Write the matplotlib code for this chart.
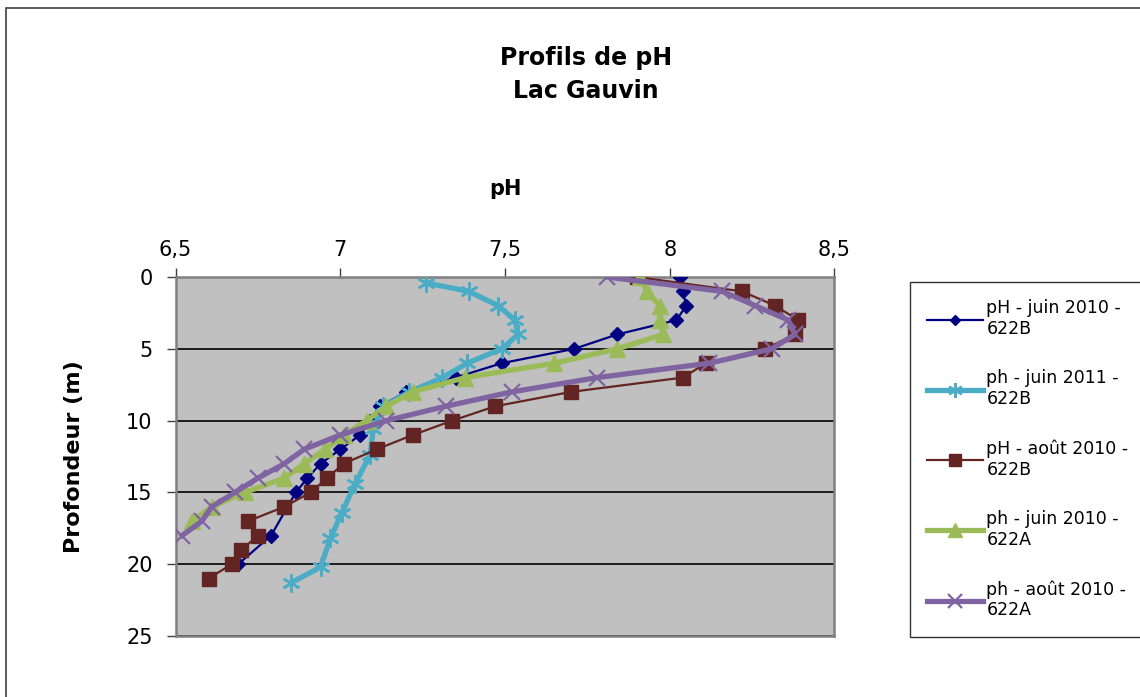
import matplotlib
matplotlib.use('Agg')
import matplotlib.pyplot as plt
from matplotlib.patches import Rectangle
from matplotlib.ticker import FuncFormatter

plt.rcParams['font.family'] = ['DejaVu Sans']

# profils de pH, lac Gauvin (profondeur en m)
prof_juin10_b = [0, 1, 2, 3, 4, 5, 6, 7, 8, 9, 10, 11, 12, 13, 14, 15, 18, 20]
ph_juin10_b = [8.03, 8.04, 8.05, 8.02, 7.84, 7.71, 7.49, 7.35, 7.20, 7.12,
               7.09, 7.06, 7.00, 6.94, 6.90, 6.865, 6.79, 6.69]

prof_juin11_b = [0.4, 1, 2, 3, 4, 5, 6, 7, 8, 9, 10.6, 12.4, 14.4, 16.4,
                 18.2, 20.2, 21.3]
ph_juin11_b = [7.26, 7.39, 7.48, 7.53, 7.54, 7.49, 7.385, 7.31, 7.21, 7.13,
               7.10, 7.09, 7.045, 7.005, 6.97, 6.94, 6.85]

prof_aout10_b = list(range(0, 22))
ph_aout10_b = [7.90, 8.22, 8.32, 8.39, 8.38, 8.29, 8.11, 8.04, 7.70, 7.47,
               7.34, 7.22, 7.11, 7.01, 6.96, 6.91, 6.83, 6.72, 6.75, 6.70,
               6.67, 6.60]

prof_juin10_a = list(range(0, 18))
ph_juin10_a = [7.91, 7.93, 7.97, 7.97, 7.98, 7.84, 7.65, 7.38, 7.22, 7.14,
               7.08, 7.01, 6.955, 6.89, 6.83, 6.71, 6.61, 6.55]

prof_aout10_a = list(range(0, 19))
ph_aout10_a = [7.81, 8.16, 8.26, 8.36, 8.38, 8.31, 8.12, 7.78, 7.52, 7.32,
               7.14, 7.00, 6.89, 6.83, 6.75, 6.68, 6.61, 6.58, 6.52]

x_ticks = [6.5, 7, 7.5, 8, 8.5]
y_ticks = [0, 5, 10, 15, 20, 25]

fig = plt.figure(figsize=(11.4, 6.97), dpi=100)
ax = fig.add_axes([0.154, 0.0875, 0.578, 0.515])
ax.set_facecolor('#c0c0c0')

ax.plot(ph_juin10_b, prof_juin10_b, color='#000080', lw=1.6, marker='D',
        ms=7, label='pH - juin 2010 -\n622B', zorder=3)
ax.plot(ph_juin11_b, prof_juin11_b, color='#4bacc6', lw=3.8,
        marker=(6, 2, 0), ms=13, mew=1.8, label='ph - juin 2011 -\n622B',
        zorder=4)
ax.plot(ph_aout10_b, prof_aout10_b, color='#632523', lw=1.6, marker='s',
        ms=10, label='pH - août 2010 -\n622B', zorder=5)
ax.plot(ph_juin10_a, prof_juin10_a, color='#9bbb59', lw=3.8, marker='^',
        ms=12, label='ph - juin 2010 -\n622A', zorder=6)
ax.plot(ph_aout10_a, prof_aout10_a, color='#8064a2', lw=3.8, marker='x',
        ms=12, mew=1.6, label='ph - août 2010 -\n622A', zorder=7)

ax.set_xlim(6.5, 8.5)
ax.set_ylim(25, 0)
ax.set_xticks(x_ticks)
ax.set_yticks(y_ticks)
ax.xaxis.set_major_formatter(FuncFormatter(lambda v, p: f'{v:g}'.replace('.', ',')))
ax.xaxis.tick_top()
ax.xaxis.set_label_position('top')
ax.tick_params(direction='out', length=6.5, width=1, color='#404040',
               labelsize=15, pad=6)
ax.tick_params(axis='y', pad=10)
ax.yaxis.grid(True, color='black', lw=1.2)
ax.set_axisbelow(True)
for s in ax.spines.values():
    s.set_color('#808080')
    s.set_linewidth(1.8)

ax.set_xlabel('pH', fontsize=15, fontweight='bold', labelpad=32)
ax.set_ylabel('Profondeur (m)', fontsize=16, fontweight='bold', labelpad=30)

fig.text(0.514, 0.893, 'Profils de pH\nLac Gauvin', ha='center', va='center',
         fontsize=17, fontweight='bold', linespacing=1.45)

leg = fig.legend(loc='upper left', bbox_to_anchor=(910 / 1140, 1 - 282 / 697),
                 fontsize=12.5, frameon=True, fancybox=False, edgecolor='black',
                 handlelength=3.2, handletextpad=0.2, labelspacing=1.8,
                 borderpad=1.0, borderaxespad=0, markerscale=0.8)
leg.get_frame().set_linewidth(1.0)

# cadre du graphique
fig.patches.append(Rectangle((6 / 1140, -0.02), 1.05, 1 - 8 / 697 + 0.02,
                             transform=fig.transFigure, fill=False,
                             edgecolor='#404040', lw=1.2))

fig.savefig('out.png', dpi=100)
